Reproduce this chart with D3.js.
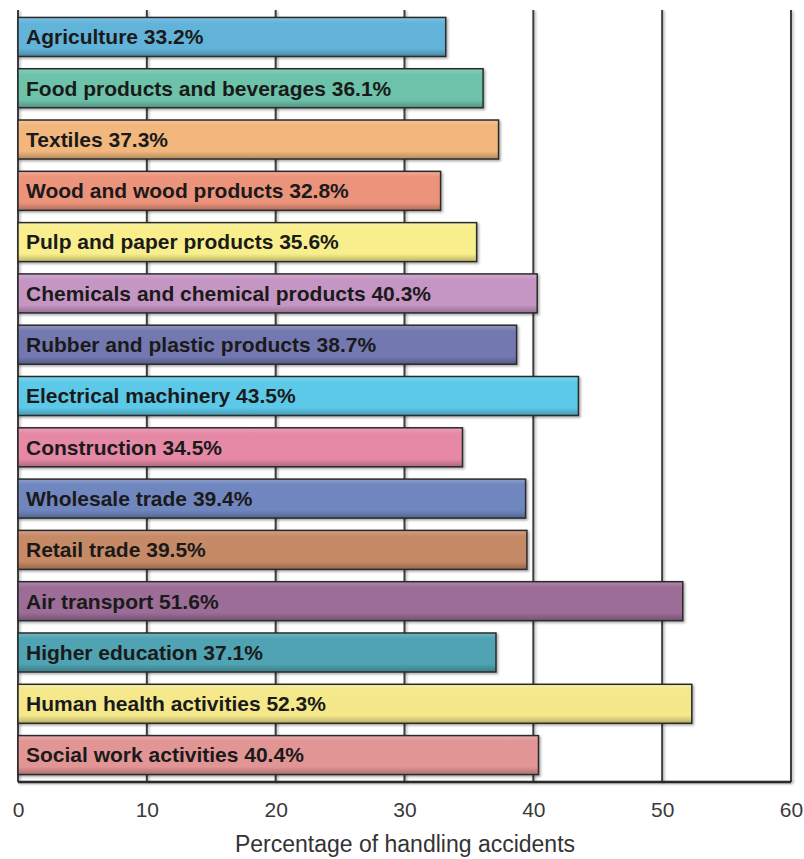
<!DOCTYPE html>
<html>
<head>
<meta charset="utf-8">
<title>Handling accidents by sector</title>
<script src="https://cdn.jsdelivr.net/npm/d3@7"></script>
<style>
  body { margin: 0; background: #fff; }
  .label { font: bold 21px "Liberation Sans", Arial, sans-serif; fill: #1a1a1a; }
  .tick text { font: 21px "Liberation Sans", Arial, sans-serif; fill: #3a3a3a; }
  .title { font: 23px "Liberation Sans", Arial, sans-serif; fill: #333; }
</style>
</head>
<body>
<svg id="chart" width="804" height="859"></svg>
<script>
// sectors, top to bottom
var sectors = ["Agriculture", "Food products and beverages", "Textiles", "Wood and wood products",
  "Pulp and paper products", "Chemicals and chemical products", "Rubber and plastic products",
  "Electrical machinery", "Construction", "Wholesale trade", "Retail trade", "Air transport",
  "Higher education", "Human health activities", "Social work activities"];
var shares = [33.2, 36.1, 37.3, 32.8, 35.6, 40.3, 38.7, 43.5, 34.5, 39.4, 39.5, 51.6, 37.1, 52.3, 40.4];
var colors = ["#62b3d9", "#6dc3a9", "#f1b77b", "#ec937b", "#f8ef8c", "#c596c3", "#7379b0",
  "#5cc9e9", "#e689a6", "#6f86bf", "#c68a66", "#9b6d97", "#4fa3b2", "#f4e88b", "#e29595"];
var ticks = [0, 10, 20, 30, 40, 50, 60];

var svg = d3.select("#chart");
var plotTop = 10, plotBottom = 782;

var x = d3.scaleLinear().domain([0, 60]).range([18, 791]);
var y = d3.scaleBand().domain(sectors).range([plotTop, plotBottom]).paddingInner(0.24).paddingOuter(0.145);

var defs = svg.append("defs");
var shadow = defs.append("filter").attr("id", "shadow")
  .attr("x", "-5%").attr("y", "-20%").attr("width", "110%").attr("height", "150%");
shadow.append("feDropShadow").attr("dx", 1.5).attr("dy", 1.5).attr("stdDeviation", 1)
  .attr("flood-color", "#000").attr("flood-opacity", 0.35);

// lines have a zero-size bbox, so their shadow needs a region in user space
var lineShadow = defs.append("filter").attr("id", "lineShadow")
  .attr("filterUnits", "userSpaceOnUse")
  .attr("x", 0).attr("y", 0).attr("width", 804).attr("height", 859);
lineShadow.append("feDropShadow").attr("dx", 1.5).attr("dy", 1).attr("stdDeviation", 1)
  .attr("flood-color", "#000").attr("flood-opacity", 0.3);

colors.forEach(function(c, i) {
  var g = defs.append("linearGradient").attr("id", "grad" + i)
    .attr("x1", 0).attr("y1", 0).attr("x2", 0).attr("y2", 1);
  g.append("stop").attr("offset", "0%").attr("stop-color", d3.interpolateRgb(c, "#fff")(0.2));
  g.append("stop").attr("offset", "15%").attr("stop-color", c);
  g.append("stop").attr("offset", "80%").attr("stop-color", c);
  g.append("stop").attr("offset", "100%").attr("stop-color", d3.color(c).darker(0.8));
});

// grid lines
svg.append("g").selectAll("line")
  .data(ticks)
  .enter().append("line")
  .attr("x1", function(d) { return x(d); })
  .attr("x2", function(d) { return x(d); })
  .attr("y1", plotTop)
  .attr("y2", plotBottom)
  .attr("stroke", "#3c3c3c")
  .attr("stroke-width", 2)
  .attr("filter", "url(#lineShadow)");

svg.append("line")
  .attr("x1", x(0)).attr("x2", x(60))
  .attr("y1", plotBottom).attr("y2", plotBottom)
  .attr("stroke", "#2a2a2a").attr("stroke-width", 2.5)
  .attr("filter", "url(#lineShadow)");

// bars
var bar = svg.append("g").selectAll("g")
  .data(sectors)
  .enter().append("g");

bar.append("rect")
  .attr("x", x(0))
  .attr("y", function(d) { return y(d); })
  .attr("width", function(d, i) { return x(shares[i]) - x(0); })
  .attr("height", y.bandwidth())
  .attr("fill", function(d, i) { return "url(#grad" + i + ")"; })
  .attr("stroke", "#2b2b2b")
  .attr("stroke-width", 1.5)
  .attr("filter", "url(#shadow)");

bar.append("text")
  .attr("class", "label")
  .attr("x", 26)
  .attr("y", function(d) { return y(d) + y.bandwidth() / 2; })
  .attr("dy", "0.35em")
  .text(function(d, i) { return d + " " + shares[i].toFixed(1) + "%"; });

// axis
var axis = svg.append("g")
  .attr("transform", "translate(0," + plotBottom + ")")
  .call(d3.axisBottom(x).tickValues(ticks).tickSize(0).tickPadding(20));
axis.select(".domain").remove();

svg.append("text")
  .attr("class", "title")
  .attr("x", 405)
  .attr("y", 852)
  .attr("text-anchor", "middle")
  .text("Percentage of handling accidents");
</script>
</body>
</html>
